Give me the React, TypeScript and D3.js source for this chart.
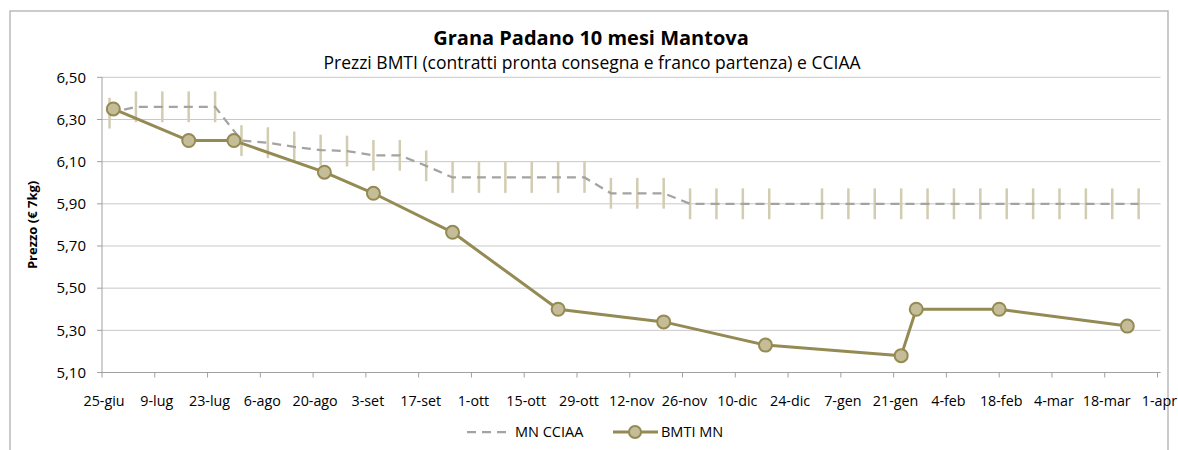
import React from 'react';
import * as d3 from 'd3';

// ---- data ----
const xTickLabels = ['25-giu','9-lug','23-lug','6-ago','20-ago','3-set','17-set','1-ott','15-ott','29-ott','12-nov','26-nov','10-dic','24-dic','7-gen','21-gen','4-feb','18-feb','4-mar','18-mar','1-apr'];
const yTicks = [5.1, 5.3, 5.5, 5.7, 5.9, 6.1, 6.3, 6.5];

const cciaaDates = ['2012-06-27','2012-07-04','2012-07-11','2012-07-18','2012-07-25','2012-08-01','2012-08-08','2012-08-15','2012-08-22','2012-08-29','2012-09-05','2012-09-12','2012-09-19','2012-09-26','2012-10-03','2012-10-10','2012-10-17','2012-10-24','2012-10-31','2012-11-07','2012-11-14','2012-11-21','2012-11-28','2012-12-05','2012-12-12','2012-12-19','2013-01-02','2013-01-09','2013-01-16','2013-01-23','2013-01-30','2013-02-06','2013-02-13','2013-02-20','2013-02-27','2013-03-06','2013-03-13','2013-03-20','2013-03-27'];
const cciaaValues = [6.33,6.36,6.36,6.36,6.36,6.20,6.19,6.17,6.155,6.15,6.13,6.13,6.08,6.025,6.025,6.025,6.025,6.025,6.025,5.95,5.95,5.95,5.90,5.90,5.90,5.90,5.90,5.90,5.90,5.90,5.90,5.90,5.90,5.90,5.90,5.90,5.90,5.90,5.90];
const cciaaError = 0.073;

const bmtiDates = ['2012-06-28','2012-07-18','2012-07-30','2012-08-23','2012-09-05','2012-09-26','2012-10-24','2012-11-21','2012-12-18','2013-01-23','2013-01-27','2013-02-18','2013-03-24'];
const bmtiValues = [6.35,6.20,6.20,6.05,5.95,5.765,5.40,5.34,5.23,5.18,5.40,5.40,5.32];

const xStart = '2012-06-25';
const xEnd = '2013-04-01';

const FONT = '"Open Sans", sans-serif';
const OLIVE = '#948A54';
const MARKER_FILL = '#C4BD97';
const ERR_COLOR = '#D2CCB0';
const DASH_COLOR = '#A3A3A0';

const parse = (s: string) => { const [y, m, d] = s.split('-').map(Number); return new Date(Date.UTC(y, m - 1, d)); };

export default function App() {
  const W = 1178, H = 450;
  const x = d3.scaleUtc().domain([parse(xStart), parse(xEnd)]).range([102, 1157.5]);
  const y = d3.scaleLinear().domain([5.1, 6.5]).range([372.5, 77.3]);

  const tickDates = xTickLabels.map((_, i) => d3.utcDay.offset(parse(xStart), 14 * i));

  const cciaa = cciaaDates.map((d, i) => ({ date: parse(d), v: cciaaValues[i] }));
  const bmti = bmtiDates.map((d, i) => ({ date: parse(d), v: bmtiValues[i] }));

  const line = d3.line<{ date: Date; v: number }>().x(d => x(d.date)).y(d => y(d.v));

  const [x0, x1] = x.range();
  const [yb, yt] = y.range();

  return (
    <svg width={W} height={H} style={{ position: 'absolute', left: 0, top: 0, background: '#fff' }} fontFamily={FONT}>
      <rect x={10} y={11} width={1158} height={460} fill="#fff" stroke="#B0B0B0" strokeWidth={1.3} />
      <text x={591} y={45} textAnchor="middle" fontSize={20} fontWeight="bold" fill="#000">Grana Padano 10 mesi Mantova</text>
      <text x={592} y={69} textAnchor="middle" fontSize={17.5} fill="#000">Prezzi BMTI (contratti pronta consegna e franco partenza) e CCIAA</text>

      {/* gridlines */}
      {yTicks.map(t => (
        <line key={'g' + t} x1={x0} x2={x1 + 3} y1={y(t)} y2={y(t)} stroke="#C8C8C8" strokeWidth={1} />
      ))}
      {/* y axis */}
      <line x1={x0} x2={x0} y1={yt} y2={yb} stroke="#A0A0A0" strokeWidth={1} />
      {yTicks.map(t => (
        <g key={'yt' + t}>
          <line x1={x0 - 5} x2={x0} y1={y(t)} y2={y(t)} stroke="#A0A0A0" />
          <text x={x0 - 16} y={y(t)} dy="0.35em" textAnchor="end" fontSize={15} fill="#000">{t.toFixed(2).replace('.', ',')}</text>
        </g>
      ))}
      <text transform={`translate(37,${(yt + yb) / 2}) rotate(-90)`} textAnchor="middle" fontSize={13} fontWeight="bold" fill="#000">Prezzo (€ 7kg)</text>

      {/* x axis */}
      <line x1={x0} x2={x1 + 3} y1={yb} y2={yb} stroke="#A0A0A0" strokeWidth={1} />
      {tickDates.map((d, i) => (
        <g key={'xt' + i}>
          <line x1={x(d)} x2={x(d)} y1={yb} y2={yb + 5} stroke="#A0A0A0" />
          <text x={x(d) + 2} y={yb + 33} textAnchor="middle" fontSize={14.3} fill="#000">{xTickLabels[i]}</text>
        </g>
      ))}

      {/* CCIAA error bars */}
      {cciaa.map((d, i) => (
        <line key={'e' + i} x1={x(d.date)} x2={x(d.date)} y1={y(d.v + cciaaError)} y2={y(d.v - cciaaError)} stroke={ERR_COLOR} strokeWidth={2.5} />
      ))}
      {/* CCIAA dashed line */}
      <path d={line(cciaa) || ''} fill="none" stroke={DASH_COLOR} strokeWidth={2.25} strokeDasharray="9,6" />

      {/* BMTI line */}
      <path d={line(bmti) || ''} fill="none" stroke={OLIVE} strokeWidth={3} strokeLinejoin="round" />
      {bmti.map((d, i) => (
        <circle key={'m' + i} cx={x(d.date)} cy={y(d.v)} r={6.5} fill={MARKER_FILL} stroke={OLIVE} strokeWidth={2} />
      ))}

      {/* legend */}
      <line x1={467} x2={512} y1={432} y2={432} stroke={DASH_COLOR} strokeWidth={2.25} strokeDasharray="9,6" />
      <text x={515} y={432} dy="0.35em" fontSize={14.5} fill="#000">MN CCIAA</text>
      <line x1={613} x2={658} y1={432} y2={432} stroke={OLIVE} strokeWidth={3} />
      <circle cx={635} cy={432} r={6} fill={MARKER_FILL} stroke={OLIVE} strokeWidth={2} />
      <text x={661} y={432} dy="0.35em" fontSize={14.5} fill="#000">BMTI MN</text>
    </svg>
  );
}
